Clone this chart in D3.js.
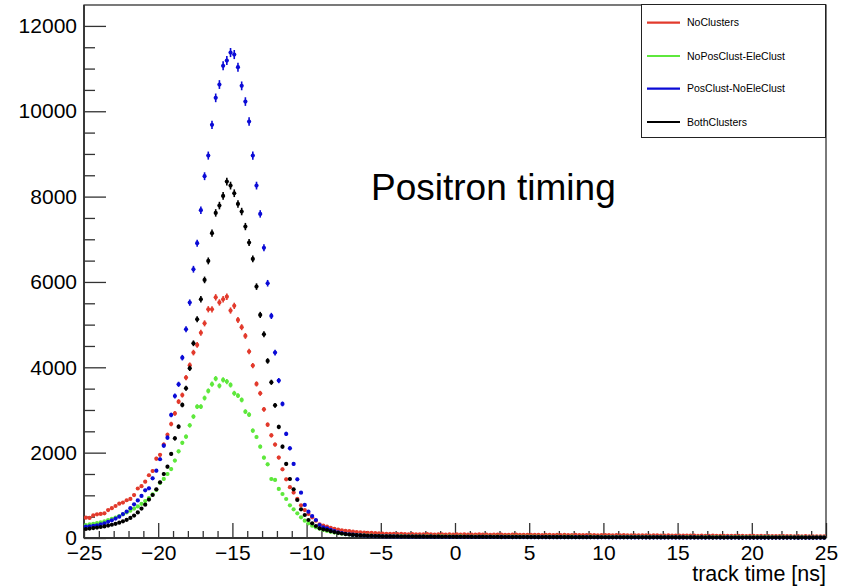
<!DOCTYPE html>
<html>
<head>
<meta charset="utf-8">
<script src="https://cdn.jsdelivr.net/npm/d3@7"></script>
<style>
  html, body { margin: 0; padding: 0; background: #fff; }
  svg { display: block; font-family: "Liberation Sans", Arial, Helvetica, sans-serif; }
</style>
</head>
<body>
<svg id="chart" width="852" height="587"></svg>
<script>
// Histogram binning: 200 bins of 0.25 ns from -25 to 25 ns
const binLow = -25;
const binWidth = 0.25;

const seriesNames = ["NoClusters", "NoPosClust-EleClust", "PosClust-NoEleClust", "BothClusters"];
const seriesColors = ["#e23a2c", "#5ee83c", "#0b0bd6", "#000000"];

const noClusters = [
  476, 470, 530, 555, 565, 578, 655, 700, 750, 805,
  830, 885, 915, 1005, 1160, 1215, 1320, 1470, 1570, 1860,
  1950, 2190, 2420, 2670, 2920, 3195, 3350, 3760, 4050, 4345,
  4525, 4810, 5030, 5360, 5360, 5640, 5520, 5595, 5655, 5330,
  5440, 5110, 4940, 4735, 4370, 4040, 3610, 3390, 3015, 2655,
  2405, 2190, 1885, 1610, 1375, 1190, 1065, 915, 765, 655,
  565, 485, 405, 320, 290, 265, 240, 215, 195, 180,
  170, 160, 150, 140, 135, 128, 122, 118, 112, 108,
  104, 100, 98, 95, 92, 96, 90, 88, 92, 86,
  88, 84, 90, 86, 82, 85, 88, 80, 84, 82,
  86, 80, 84, 78, 82, 80, 85, 78, 80, 76,
  80, 78, 82, 76, 74, 78, 80, 75, 72, 76,
  74, 72, 76, 70, 74, 72, 70, 74, 68, 72,
  70, 68, 72, 66, 70, 68, 66, 70, 64, 68,
  66, 70, 64, 66, 62, 66, 64, 60, 64, 62,
  60, 62, 58, 62, 60, 58, 56, 60, 58, 56,
  58, 55, 56, 54, 57, 52, 55, 53, 50, 54,
  52, 50, 53, 48, 52, 50, 48, 51, 47, 50,
  48, 46, 49, 45, 47, 44, 46, 43, 45, 42,
  44, 41, 43, 40, 42, 39, 41, 38, 40, 37
];

const noPosClustEleClust = [
  305, 318, 332, 348, 368, 392, 420, 450, 480, 515,
  555, 598, 640, 690, 740, 800, 865, 935, 1025, 1125,
  1290, 1385, 1500, 1615, 1815, 2030, 2230, 2375, 2640, 2845,
  3078, 3078, 3280, 3446, 3605, 3734, 3565, 3705, 3665, 3586,
  3391, 3336, 3235, 2961, 2891, 2516, 2367, 2141, 1883, 1727,
  1383, 1360, 1149, 1031, 914, 766, 672, 578, 485, 406,
  344, 288, 250, 219, 190, 165, 145, 128, 112, 100,
  90, 82, 75, 70, 65, 60, 56, 54, 50, 48,
  46, 44, 45, 42, 40, 42, 39, 40, 38, 40,
  37, 38, 36, 38, 35, 37, 36, 34, 36, 35,
  34, 36, 33, 35, 34, 32, 35, 33, 34, 32,
  33, 31, 34, 32, 30, 33, 31, 32, 30, 31,
  32, 30, 31, 29, 31, 30, 28, 31, 29, 30,
  28, 30, 29, 27, 29, 28, 30, 27, 28, 29,
  27, 28, 26, 28, 27, 25, 28, 26, 27, 25,
  26, 27, 25, 26, 24, 26, 25, 24, 26, 23,
  25, 24, 23, 25, 22, 24, 23, 22, 24, 21,
  23, 22, 21, 23, 21, 22, 20, 22, 21, 20,
  21, 20, 19, 21, 19, 20, 18, 20, 19, 18,
  19, 18, 17, 19, 17, 18, 16, 18, 17, 16
];

const posClustNoEleClust = [
  265, 272, 285, 298, 318, 345, 378, 415, 455, 500,
  560, 620, 700, 790, 880, 985, 1118, 1165, 1399, 1578,
  1845, 2164, 2351, 2883, 3328, 3602, 4226, 4892, 5516, 6298,
  6908, 7681, 8478, 8961, 9681, 10314, 10626, 11064, 11188, 11376,
  11329, 11033, 10595, 10227, 9758, 8961, 8258, 7595, 6800, 5970,
  5204, 4344, 3688, 3141, 2438, 2102, 1735, 1375, 1063, 774,
  617, 516, 422, 305, 250, 227, 190, 160, 135, 115,
  100, 88, 78, 70, 62, 56, 52, 48, 45, 42,
  40, 38, 36, 37, 34, 33, 35, 32, 31, 33,
  30, 31, 29, 30, 28, 29, 27, 28, 26, 28,
  27, 26, 28, 25, 26, 24, 26, 25, 23, 25,
  24, 23, 25, 22, 24, 22, 21, 23, 21, 22,
  21, 22, 20, 21, 19, 21, 20, 19, 20, 18,
  19, 18, 20, 17, 18, 19, 17, 18, 16, 18,
  17, 16, 18, 16, 15, 17, 15, 16, 14, 16,
  15, 14, 16, 14, 15, 13, 14, 15, 13, 14,
  13, 14, 12, 13, 14, 12, 13, 11, 13, 12,
  12, 11, 12, 13, 11, 12, 10, 11, 12, 10,
  11, 10, 11, 9, 10, 11, 9, 10, 9, 10,
  9, 10, 8, 9, 10, 8, 9, 8, 9, 8
];

const bothClusters = [
  211, 222, 232, 245, 258, 272, 290, 310, 332, 358,
  390, 425, 470, 525, 600, 690, 780, 900, 1008, 1141,
  1305, 1500, 1672, 1969, 2336, 2609, 3118, 3508, 3977, 4563,
  5126, 5595, 6048, 6493, 7142, 7618, 7790, 8016, 8352, 8258,
  8079, 7829, 7650, 7298, 6923, 6540, 5891, 5227, 4774, 4149,
  3649, 3110, 2602, 2141, 1735, 1383, 1141, 891, 672, 539,
  422, 344, 281, 227, 204, 188, 160, 138, 120, 105,
  92, 82, 74, 67, 61, 56, 52, 48, 45, 42,
  40, 38, 37, 35, 36, 33, 34, 32, 33, 31,
  30, 32, 29, 30, 28, 30, 27, 29, 27, 28,
  26, 28, 25, 27, 26, 24, 26, 25, 24, 25,
  23, 25, 22, 24, 23, 22, 24, 21, 23, 22,
  21, 22, 20, 22, 21, 20, 21, 19, 21, 20,
  19, 20, 18, 20, 19, 18, 19, 17, 19, 18,
  17, 18, 16, 18, 17, 16, 17, 15, 17, 16,
  15, 16, 14, 16, 15, 14, 15, 13, 15, 14,
  13, 14, 12, 14, 13, 12, 13, 12, 13, 11,
  12, 13, 11, 12, 11, 12, 10, 11, 12, 10,
  11, 10, 11, 10, 9, 11, 10, 9, 10, 9,
  9, 10, 8, 9, 8, 9, 8, 9, 8, 8
];

const xMajorTicks = [-25, -20, -15, -10, -5, 0, 5, 10, 15, 20, 25];
const yMajorTicks = [0, 2000, 4000, 6000, 8000, 10000, 12000];
const xTitle = "track time [ns]";
const plotTitle = "Positron timing";

const allSeries = [noClusters, noPosClustEleClust, posClustNoEleClust, bothClusters];

const svg = d3.select("#chart");
const L = 84, R = 826, T = 5, B = 538;

const x = d3.scaleLinear().domain([-25, 25]).range([L, R]);
const y = d3.scaleLinear().domain([0, 12490]).range([B, T]);

const fmt = v => (v < 0 ? "\u2212" + Math.abs(v) : String(v));

// Y axis: minor ticks every 500, majors every 2000, ticks pointing into the frame
const yMinor = d3.range(0, 12500, 500).filter(v => v % 2000 !== 0);
svg.append("g").attr("transform", `translate(${L},0)`)
  .call(d3.axisLeft(y).tickValues(yMinor).tickSize(-11).tickFormat(""))
  .call(g => g.select(".domain").remove())
  .call(g => g.selectAll("line").attr("stroke", "#333").attr("stroke-width", 1.3));
svg.append("g").attr("transform", `translate(${L},0)`)
  .call(d3.axisLeft(y).tickValues(yMajorTicks).tickSize(-22).tickPadding(7).tickFormat(d => d))
  .call(g => g.select(".domain").remove())
  .call(g => g.selectAll("line").attr("stroke", "#333").attr("stroke-width", 1.3))
  .call(g => g.selectAll("text").attr("font-size", 21).attr("fill", "#000")
    .attr("font-family", "Liberation Sans, Arial, sans-serif"));

// X axis: minor ticks every 1 ns, majors every 5 ns
const xMinor = d3.range(-25, 26, 1).filter(v => v % 5 !== 0);
svg.append("g").attr("transform", `translate(0,${B})`)
  .call(d3.axisBottom(x).tickValues(xMinor).tickSize(-7).tickFormat(""))
  .call(g => g.select(".domain").remove())
  .call(g => g.selectAll("line").attr("stroke", "#333").attr("stroke-width", 1.3));
svg.append("g").attr("transform", `translate(0,${B})`)
  .call(d3.axisBottom(x).tickValues(xMajorTicks).tickSize(-15).tickPadding(6).tickFormat(fmt))
  .call(g => g.select(".domain").remove())
  .call(g => g.selectAll("line").attr("stroke", "#333").attr("stroke-width", 1.3))
  .call(g => g.selectAll("text").attr("font-size", 21).attr("fill", "#000")
    .attr("font-family", "Liberation Sans, Arial, sans-serif").attr("dy", "0.78em").attr("y", 6));

// Frame
svg.append("rect").attr("x", L).attr("y", T).attr("width", R - L).attr("height", B - T)
  .attr("fill", "none").attr("stroke", "#222").attr("stroke-width", 1.2);
svg.append("line").attr("x1", L).attr("x2", L).attr("y1", T).attr("y2", B)
  .attr("stroke", "#333").attr("stroke-width", 1.8);
svg.append("line").attr("x1", L).attr("x2", R).attr("y1", B).attr("y2", B)
  .attr("stroke", "#333").attr("stroke-width", 1.8);

// Histogram points with Poisson error bars
const plot = svg.append("g");
allSeries.forEach((vals, si) => {
  const col = seriesColors[si];
  const g = plot.append("g");
  vals.forEach((v, i) => {
    const lo = binLow + i * binWidth, hi = lo + binWidth, c = lo + binWidth / 2;
    const e = Math.sqrt(v);
    g.append("line").attr("x1", x(c)).attr("x2", x(c))
      .attr("y1", y(v - e)).attr("y2", y(v + e))
      .attr("stroke", col).attr("stroke-width", 1.6);
    g.append("line").attr("x1", x(lo) + 0.4).attr("x2", x(hi) - 0.4)
      .attr("y1", y(v)).attr("y2", y(v))
      .attr("stroke", col).attr("stroke-width", 1.2);
    g.append("circle").attr("cx", x(c)).attr("cy", y(v)).attr("r", 2.1).attr("fill", col);
  });
});

// Title text
svg.append("text").attr("x", 371).attr("y", 200).attr("font-size", 37).attr("fill", "#000")
  .text(plotTitle);

// X axis title
svg.append("text").attr("x", R).attr("y", 581).attr("text-anchor", "end")
  .attr("font-size", 21.5).attr("fill", "#000").text(xTitle);

// Legend
const leg = svg.append("g");
leg.append("rect").attr("x", 641.5).attr("y", 4.5).attr("width", 184).attr("height", 133)
  .attr("fill", "#fff").attr("stroke", "#222").attr("stroke-width", 1);
const rowY = [22.7, 56, 88.7, 122];
seriesNames.forEach((name, i) => {
  leg.append("line").attr("x1", 647).attr("x2", 680).attr("y1", rowY[i]).attr("y2", rowY[i])
    .attr("stroke", seriesColors[i]).attr("stroke-width", 2.2);
  leg.append("text").attr("x", 687).attr("y", rowY[i]).attr("dy", "0.35em")
    .attr("font-size", 10.5).attr("fill", "#000").text(name);
});
</script>
</body>
</html>
